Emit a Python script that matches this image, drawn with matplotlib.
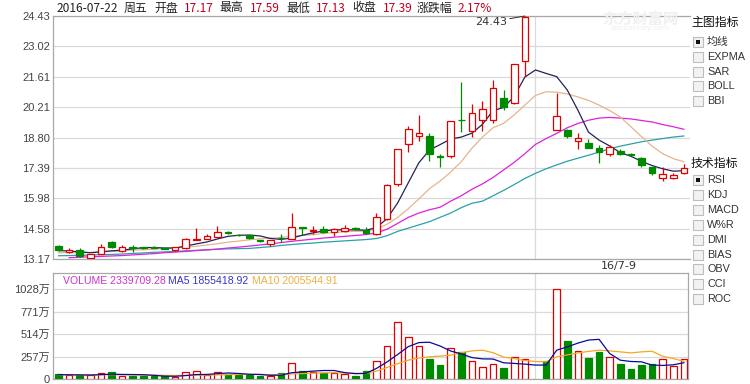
import numpy as np
import matplotlib
matplotlib.use('Agg')
import matplotlib.pyplot as plt
from matplotlib.patches import Rectangle

nan = np.nan

# ---------------- data ----------------
opens = [13.77, 13.49, 13.59, 13.23, 13.40, 13.96, 13.54, 13.70, 13.71, 13.73,
         13.66, 13.59, 13.67, 14.07, 14.11, 14.20, 14.41, 14.29, 14.26, 14.04,
         13.85, 14.15, 14.10, 14.63, 14.47, 14.55, 14.40, 14.45, 14.58, 14.50,
         14.31, 15.01, 16.65, 18.48, 18.88, 18.87, 17.95, 17.94, 19.63, 19.12,
         19.61, 19.61, 20.62, 20.38, 22.36, nan, nan, 19.15, 19.15, 18.64,
         18.53, 18.30, 18.04, 18.19, 18.00, 17.84, 17.42, 16.91, 16.93, 17.17]
highs = [13.80, 13.67, 13.67, 13.42, 13.85, 14.02, 13.80, 13.80, 13.74, 13.76,
         13.68, 13.74, 14.13, 14.59, 14.34, 14.70, 14.46, 14.33, 14.30, 14.07,
         14.06, 14.33, 15.32, 14.65, 14.71, 14.70, 14.60, 14.73, 14.63, 14.67,
         15.29, 16.65, 18.28, 19.35, 19.84, 19.00, 18.04, 19.57, 21.39, 20.34,
         20.51, 21.46, 21.00, 22.19, 24.43, nan, nan, 20.85, 19.20, 18.99,
         18.72, 18.45, 18.45, 18.25, 18.10, 17.91, 17.44, 17.45, 17.17, 17.59]
lows = [13.55, 13.45, 13.27, 13.20, 13.38, 13.68, 13.48, 13.50, 13.62, 13.66,
        13.62, 13.55, 13.65, 14.05, 14.09, 14.18, 14.33, 14.22, 14.10, 13.96,
        13.79, 13.97, 14.08, 14.28, 14.33, 14.36, 14.22, 14.40, 14.52, 14.33,
        14.28, 14.97, 16.55, 18.14, 18.65, 17.72, 17.45, 17.86, 19.07, 18.84,
        19.12, 19.46, 20.07, 20.33, 21.65, nan, nan, 19.15, 18.76, 18.25,
        18.30, 17.60, 17.94, 18.00, 17.99, 17.45, 17.06, 16.80, 16.90, 17.13]
closes = [13.59, 13.59, 13.31, 13.39, 13.74, 13.74, 13.71, 13.68, 13.68, 13.70,
          13.64, 13.71, 14.11, 14.10, 14.24, 14.42, 14.38, 14.26, 14.15, 14.00,
          14.04, 14.12, 14.67, 14.60, 14.49, 14.42, 14.55, 14.60, 14.56, 14.36,
          15.10, 16.60, 18.25, 19.18, 19.01, 18.04, 17.88, 19.55, 19.60, 19.92,
          20.12, 21.08, 20.23, 22.19, 24.40, nan, nan, 19.81, 18.87, 18.78,
          18.33, 18.14, 18.35, 18.02, 17.99, 17.53, 17.17, 17.10, 17.06, 17.39]

ma5 = [13.56, 13.54, 13.50, 13.46, 13.50, 13.55, 13.58, 13.64, 13.70, 13.70,
       13.68, 13.68, 13.77, 13.87, 13.96, 14.10, 14.22, 14.27, 14.28, 14.24,
       14.12, 14.08, 14.14, 14.27, 14.38, 14.47, 14.52, 14.52, 14.52, 14.50,
       14.63, 15.04, 15.77, 16.70, 17.63, 18.22, 18.47, 18.73, 18.82, 19.00,
       19.41, 20.05, 20.19, 20.71, 21.60, 21.93, 21.77, 21.62, 21.00, 20.07,
       19.05, 18.68, 18.41, 18.10, 17.93, 17.70, 17.50, 17.35, 17.24, 17.26]
ma10 = [13.46, 13.46, 13.46, 13.47, 13.50, 13.52, 13.54, 13.58, 13.60, 13.62,
        13.66, 13.69, 13.72, 13.76, 13.82, 13.88, 13.95, 14.00, 14.06, 14.10,
        14.14, 14.17, 14.22, 14.26, 14.30, 14.35, 14.40, 14.43, 14.45, 14.47,
        14.55, 14.78, 15.10, 15.50, 15.95, 16.43, 16.78, 17.20, 17.68, 18.30,
        18.82, 19.25, 19.46, 19.85, 20.30, 20.75, 20.92, 20.90, 20.82, 20.68,
        20.52, 20.30, 20.05, 19.75, 19.30, 18.84, 18.40, 18.05, 17.82, 17.68]
ma20 = [nan, 13.23, 13.25, 13.27, 13.29, 13.31, 13.33, 13.36, 13.39, 13.42,
        13.46, 13.49, 13.52, 13.56, 13.59, 13.63, 13.68, 13.72, 13.77, 13.82,
        13.87, 13.93, 13.99, 14.04, 14.09, 14.14, 14.18, 14.22, 14.26, 14.30,
        14.38, 14.55, 14.82, 15.10, 15.30, 15.45, 15.57, 15.85, 16.10, 16.40,
        16.65, 16.95, 17.30, 17.65, 18.05, 18.48, 18.75, 18.99, 19.25, 19.45,
        19.60, 19.70, 19.73, 19.70, 19.66, 19.59, 19.52, 19.40, 19.30, 19.18]
ma60 = [13.32, 13.33, 13.34, 13.35, 13.37, 13.38, 13.40, 13.43, 13.45, 13.48,
        13.50, 13.52, 13.55, 13.57, 13.60, 13.62, 13.64, 13.65, 13.66, 13.70,
        13.74, 13.80, 13.84, 13.88, 13.91, 13.95, 13.98, 14.01, 14.04, 14.07,
        14.12, 14.25, 14.45, 14.60, 14.75, 14.90, 15.10, 15.30, 15.55, 15.75,
        15.85, 16.10, 16.35, 16.62, 16.90, 17.14, 17.35, 17.53, 17.70, 17.84,
        17.98, 18.12, 18.28, 18.40, 18.50, 18.60, 18.68, 18.75, 18.82, 18.87]

# volume in 万 (10k shares)
volumes = [57, 42, 42, 42, 68, 79, 30, 34, 34, 34,
           34, 19, 76, 91, 42, 79, 57, 45, 49, 30,
           30, 68, 181, 91, 79, 64, 72, 57, 34, 91,
           204, 374, 646, 476, 374, 230, 159, 359, 310, 204,
           132, 170, 128, 257, 227, nan, 204, 1028, 430, 317,
           242, 310, 257, 170, 117, 159, 166, 227, 147, 234]
vol_ma5 = [50, 48, 47, 45, 50, 55, 52, 51, 49, 42,
           33, 31, 39, 51, 52, 61, 69, 63, 54, 52,
           42, 44, 72, 80, 90, 97, 97, 73, 61, 64,
           121, 195, 280, 370, 416, 420, 377, 320, 286, 245,
           230, 228, 185, 178, 170, 159, 159, 329, 366, 410,
           445, 453, 291, 215, 200, 196, 159, 155, 162, 186]
vol_ma10 = [48, 48, 47, 47, 48, 50, 48, 46, 45, 44,
            42, 40, 42, 44, 45, 47, 50, 52, 53, 52,
            50, 52, 58, 62, 66, 70, 72, 68, 66, 62,
            90, 132, 175, 215, 240, 253, 262, 272, 300, 321,
            329, 300, 250, 234, 210, 200, 196, 253, 275, 298,
            315, 329, 321, 310, 298, 310, 317, 260, 234, 201]

price_ticks = [13.17, 14.58, 15.98, 17.39, 18.80, 20.21, 21.61, 23.02, 24.43]
price_labels = ['13.17', '14.58', '15.98', '17.39', '18.80', '20.21', '21.61', '23.02', '24.43']
vol_ticks = [0, 257, 514, 771, 1028]
vol_labels = ['0', '257万', '514万', '771万', '1028万']

header = [('2016-07-22', False), ('周五', False), ('开盘', False), ('17.17', True),
          ('最高', False), ('17.59', True), ('最低', False), ('17.13', True),
          ('收盘', False), ('17.39', True), ('涨跌幅', False), ('2.17%', True)]
vol_legend = [('VOLUME 2339709.28', '#cc33cc'), ('MA5 1855418.92', '#3333cc'),
              ('MA10 2005544.91', '#f0b040')]
main_items = [('均线', True), ('EXPMA', False), ('SAR', False), ('BOLL', False), ('BBI', False)]
tech_items = [('RSI', True), ('KDJ', False), ('MACD', False), ('W%R', False), ('DMI', False),
              ('BIAS', False), ('OBV', False), ('CCI', False), ('ROC', False)]
date_mark_index = 45
date_mark_label = '16/7-9'

# ---------------- figure ----------------
plt.rcParams['font.family'] = ['Liberation Sans', 'Noto Sans CJK SC', 'DejaVu Sans']
W, H = 750, 384
fig = plt.figure(figsize=(7.5, 3.84), dpi=100)
fig.patch.set_facecolor('white')


def fx(x):
    return x / W


def fy(y):
    return 1 - y / H


RED = '#e00000'
GREEN = '#008a00'
GRID = '#dadada'
SPINE = '#a8a8a8'
TXT = '#444444'

idx = np.arange(len(closes))
o = np.array(opens, float)
c = np.array(closes, float)
hi = np.array(highs, float)
lo = np.array(lows, float)
valid = ~np.isnan(o)
up = np.zeros(len(c), bool)
up[valid] = c[valid] >= o[valid]

# ---- main price panel ----
ax = fig.add_axes([fx(53), fy(259), (690 - 53) / W, (259 - 16) / H])
ax.set_xlim(-0.52, 59.58)
ax.set_ylim(13.17, 24.43)
ax.set_yticks(price_ticks)
ax.set_yticklabels(price_labels)
ax.set_xticks([])
ax.tick_params(axis='y', length=0, pad=2, labelsize=8, labelcolor=TXT)
ax.grid(axis='y', color=GRID, lw=0.9, zorder=0)
ax.axvline(date_mark_index, color=GRID, lw=0.9, zorder=0)
for s in ['left', 'top', 'bottom']:
    ax.spines[s].set_color(SPINE)
    ax.spines[s].set_linewidth(0.9)
ax.spines['right'].set_visible(False)

# watermark
fig.text(fx(640), fy(19), '东方财富网', color='#f0f0f0', fontsize=11, fontweight='bold',
         ha='center', va='center', family=['Noto Sans CJK SC'], zorder=0)
fig.text(fx(640), fy(29), 'eastmoney.com', color='#f0f0f0', fontsize=6,
         ha='center', va='center', zorder=0)

wick_cols = [RED if u else GREEN for u in up[valid]]
ax.vlines(idx[valid], lo[valid], hi[valid], colors=wick_cols, lw=0.9, zorder=3)
bb = np.minimum(o, c)
bh = np.maximum(np.abs(c - o), 0.03)
m_up = valid & up
m_dn = valid & ~up
ax.bar(idx[m_up], bh[m_up], bottom=bb[m_up], width=0.62, facecolor='white',
       edgecolor=RED, lw=0.9, zorder=4)
ax.bar(idx[m_dn], bh[m_dn], bottom=bb[m_dn], width=0.62, facecolor=GREEN,
       edgecolor=GREEN, lw=0.9, zorder=4)

ax.plot(idx, ma60, color='#2aa0a8', lw=0.9, zorder=2)
ax.plot(idx, ma20, color='#dd22dd', lw=0.9, zorder=2)
ax.plot(idx, ma10, color='#e8b48a', lw=0.9, zorder=2)
ax.plot(idx, ma5, color='#22225a', lw=0.9, zorder=2)

imax = int(np.nanargmax(hi))
ax.annotate(f'{hi[imax]:.2f}', xy=(idx[imax], hi[imax]), xytext=(507, H - 22),
            textcoords='figure pixels', ha='right', va='center', fontsize=8,
            color='#333333', family=['DejaVu Sans'],
            arrowprops=dict(arrowstyle='-', color='#333333', lw=0.7,
                            shrinkA=0, shrinkB=0))

# ---- volume panel ----
vb = 379.0
axv = fig.add_axes([fx(53), fy(vb), (688 - 53) / W, (vb - 273) / H])
axv.set_xlim(-0.52, 59.39)
axv.set_ylim(0, (vb - 273) * 1028 / (vb - 289))
axv.set_yticks(vol_ticks)
axv.set_yticklabels(vol_labels)
axv.set_xticks([])
axv.tick_params(axis='y', length=0, pad=2, labelsize=8, labelcolor=TXT)
axv.grid(axis='y', color=GRID, lw=0.9, zorder=0)
axv.axvline(date_mark_index, color=GRID, lw=0.9, zorder=0)
for s in axv.spines.values():
    s.set_color(SPINE)
    s.set_linewidth(0.9)

v = np.array(volumes, float)
vv = ~np.isnan(v)
axv.bar(idx[vv & up], v[vv & up], width=0.62, facecolor='white', edgecolor=RED,
        lw=0.9, zorder=3)
axv.bar(idx[vv & ~up], v[vv & ~up], width=0.62, facecolor=GREEN, edgecolor=GREEN,
        lw=0.9, zorder=3)
axv.plot(idx, vol_ma10, color='#f5a623', lw=0.9, zorder=4)
axv.plot(idx, vol_ma5, color='#0a0a9a', lw=0.9, zorder=4)

# ---- texts ----
hx = [57, 124, 154, 184, 219, 250, 286, 316, 352, 383, 417, 458]
for (t, is_val), x in zip(header, hx):
    fig.text(fx(x), fy(8), t, color='#c00020' if is_val else '#222222',
             fontsize=8.6, va='center', ha='left',
             family=['Noto Sans CJK SC', 'DejaVu Sans'])

lx = [62.7, 167.7, 252]
for (t, col), x in zip(vol_legend, lx):
    fig.text(fx(x), fy(281.5), t, color=col, fontsize=7.6, va='center', ha='left')

fig.text(fx(601), fy(266), date_mark_label, color='#333333', fontsize=8,
         va='center', ha='left', family=['DejaVu Sans'])


def checkbox(y, checked):
    fig.patches.append(Rectangle((fx(693), fy(y + 5)), 10 / W, 10 / H,
                                 transform=fig.transFigure, facecolor='#f2f2f2',
                                 edgecolor='#bdbdbd', lw=0.8))
    if checked:
        fig.patches.append(Rectangle((fx(696), fy(y + 2)), 4 / W, 4 / H,
                                     transform=fig.transFigure, facecolor='#111111',
                                     edgecolor='none'))


fig.text(fx(691), fy(22), '主图指标', color='#111111', fontsize=8.6, va='center',
         ha='left', family=['Noto Sans CJK SC', 'DejaVu Sans'])
for k, (t, chk) in enumerate(main_items):
    y = 42 + k * 14.8
    checkbox(y, chk)
    fig.text(fx(707), fy(y), t, color='#333333', fontsize=7.8, va='center', ha='left')

fig.text(fx(691), fy(163), '技术指标', color='#111111', fontsize=8.6, va='center',
         ha='left', family=['Noto Sans CJK SC', 'DejaVu Sans'])
for k, (t, chk) in enumerate(tech_items):
    y = 180 + k * 14.9
    checkbox(y, chk)
    fig.text(fx(707), fy(y), t, color='#333333', fontsize=7.8, va='center', ha='left')

fig.savefig('out.png', dpi=100, facecolor='white')
